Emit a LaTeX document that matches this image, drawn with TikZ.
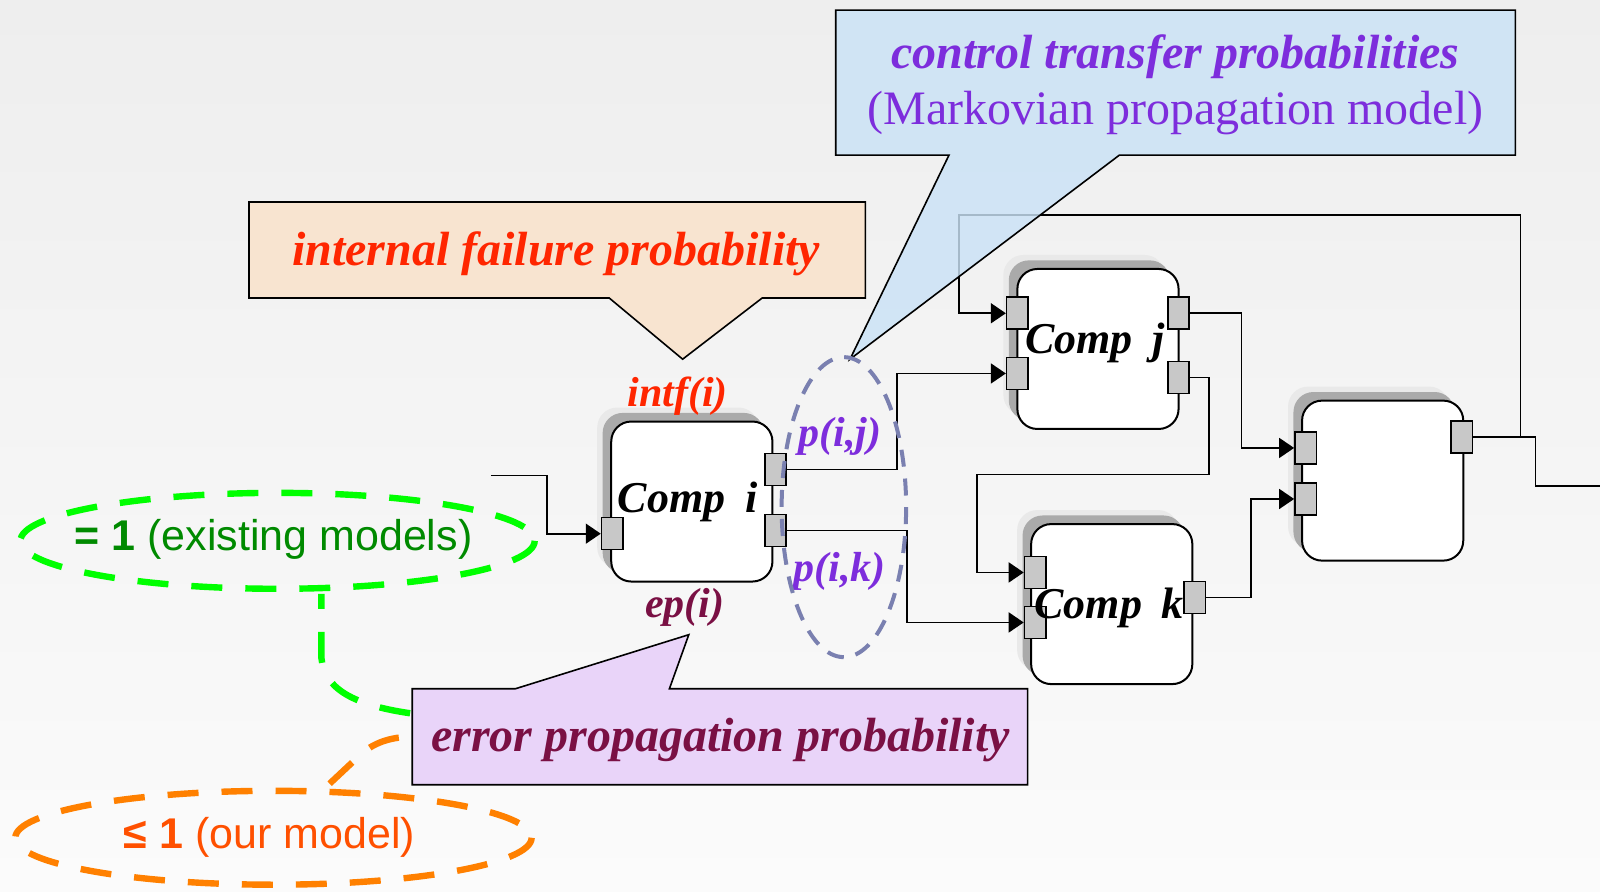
\documentclass[tikz,border=0pt]{standalone}
\usepackage{fontspec}
\setmainfont{Liberation Serif}
\newfontfamily\arialfont{Liberation Sans}
\usetikzlibrary{arrows.meta,shadows}

\definecolor{bgtop}{RGB}{238,238,238}
\definecolor{bgbot}{RGB}{251,251,251}
\definecolor{peach}{RGB}{248,228,208}
\definecolor{skyfill}{RGB}{202,226,246}
\definecolor{lilac}{RGB}{233,212,249}
\definecolor{failred}{RGB}{255,38,0}
\definecolor{ctpurple}{RGB}{125,45,220}
\definecolor{epmaroon}{RGB}{122,16,68}
\definecolor{portgray}{RGB}{200,200,200}
\definecolor{shadowgray}{RGB}{170,170,170}
\definecolor{halogray}{RGB}{233,233,233}
\definecolor{slateblue}{RGB}{122,128,176}
\definecolor{limegreen}{RGB}{0,255,0}
\definecolor{darkgreen}{RGB}{0,138,0}
\definecolor{brightorange}{RGB}{255,128,0}
\definecolor{orangetext}{RGB}{255,80,0}

\tikzset{
  compbox/.style={draw, fill=white, line width=1pt, rounded corners=10pt,
    minimum width=80.6pt, minimum height=80pt, inner sep=0pt,
    general shadow={fill=halogray, shadow xshift=-7pt, shadow yshift=7pt},
    general shadow={fill=shadowgray, shadow xshift=-4.3pt, shadow yshift=4.3pt}},
  port/.style={draw, fill=portgray, line width=0.8pt,
    minimum width=10.7pt, minimum height=16pt, inner sep=0pt},
  wire/.style={line width=0.85pt},
  arrowwire/.style={wire, -{Triangle[length=7.5pt,width=10pt]}},
  comptext/.style={font=\fontsize{22}{26}\selectfont\bfseries\itshape, inner sep=0pt},
  problabel/.style={font=\fontsize{21}{25}\selectfont\bfseries\itshape, inner sep=0pt},
  callouttext/.style={font=\fontsize{24}{28}\selectfont, inner sep=0pt},
  calloutshape/.style={draw, line width=0.8pt},
  greendash/.style={draw=limegreen, line width=3.2pt, dash pattern=on 15.5pt off 11.5pt},
  orangedash/.style={draw=brightorange, line width=3.2pt, dash pattern=on 15.5pt off 11.5pt},
  modeltext/.style={font=\fontsize{21.5}{25}\selectfont\arialfont, inner sep=0pt},
}

\begin{document}
\begin{tikzpicture}[x=0.5102pt, y=-0.5102pt]
  % background
  \shade[top color=bgtop, bottom color=bgbot] (0,0) rectangle (1568,874);
  \useasboundingbox (0,0) rectangle (1568,874);

  % "= 1" and "<= 1" annotations with their dashed tails
  \draw[greendash] (272,530) ellipse [x radius=252, y radius=47];
  \draw[greendash, dash phase=8pt] (315,582) -- (315,645) .. controls (318,672) and (340,690) .. (402,699);
  \draw[orangedash] (268,821) ellipse [x radius=253, y radius=46];
  \draw[orangedash] (323,768) -- (355,738) .. controls (368,727) and (385,722) .. (404,722);
  \node[modeltext, text=darkgreen] (eqone) at (268,529) {\textbf{= 1} (existing models)};
  \node[modeltext, text=orangetext] (leone) at (264,821) {\textbf{≤ 1} (our model)};

  % components
  \node[compbox] (ci) at (678,491.5) {};
  \node[compbox] (cj) at (1076,342) {};
  \node[compbox] (ck) at (1089.5,592) {};
  \node[compbox] (cm) at (1355,471) {};

  % ports
  \node[port] (ci-in) at (600,523) {};
  \node[port] (ci-o1) at (760,460) {};
  \node[port] (ci-o2) at (760,520) {};
  \node[port] (cj-i1) at (997,307) {};
  \node[port] (cj-i2) at (997,366) {};
  \node[port] (cj-o1) at (1155,307) {};
  \node[port] (cj-o2) at (1155,370) {};
  \node[port] (ck-i1) at (1014.5,561) {};
  \node[port] (ck-i2) at (1014.5,610) {};
  \node[port] (ck-o) at (1171,585.5) {};
  \node[port] (cm-i1) at (1279.5,439) {};
  \node[port] (cm-i2) at (1279.5,489) {};
  \node[port] (cm-o) at (1432.5,428.5) {};

  % component names
  \node[comptext] (ci-t) at (674,492) {Comp\hspace{0.45em}i};
  \node[comptext] (cj-t) at (1073,336) {Comp\hspace{0.45em}j};
  \node[comptext] (ck-t) at (1087,596) {Comp\hspace{0.45em}k};

  % connectors
  \coordinate (inL) at (481,466);
  \coordinate (outR) at (1568,476);
  \coordinate (fbj) at (1490,428.5);
  \draw[arrowwire] (inL) -- ++(55,0) |- (ci-in.west);
  \draw[arrowwire] (ci-o1.east) -- ++(107.5,0) |- (cj-i2.west);
  \draw[arrowwire] (ci-o2.east) -- ++(117.5,0) |- (ck-i2.west);
  \draw[arrowwire] (cj-o1.east) -- ++(50.5,0) |- (cm-i1.west);
  \draw[arrowwire] (cj-o2.east) -- ++(18.5,0) |- ++(-227,95) |- (ck-i1.west);
  \draw[arrowwire] (ck-o.east) -- ++(43.5,0) |- (cm-i2.west);
  \draw[wire] (cm-o.east) -- ++(61,0) |- (outR);
  \draw[arrowwire] (fbj) -- ++(0,-217.5) -- ++(-550,0) |- (cj-i1.west);

  % labels around component i
  \node[problabel, text=failred] (intf) at (664,388) {intf(i)};
  \node[problabel, text=epmaroon] (ep) at (671,595) {ep(i)};
  \node[problabel, text=ctpurple] (pij) at (823,428) {p(i,j)};
  \node[problabel, text=ctpurple] (pik) at (823,560) {p(i,k)};

  % callouts
  \draw[calloutshape, fill=peach] (244,198) -- (848,198) -- (848,292) -- (747,292)
    -- (669,352) -- (597,292) -- (244,292) -- cycle;
  \node[callouttext, text=failred, font=\fontsize{24}{28}\selectfont\bfseries\itshape]
    (intf-c) at (545,249) {internal failure probability};

  \draw[calloutshape, fill=lilac] (404,675) -- (505,675) -- (675,622) -- (656,675)
    -- (1007,675) -- (1007,769) -- (404,769) -- cycle;
  \node[callouttext, text=epmaroon, font=\fontsize{24}{28}\selectfont\bfseries\itshape]
    (ep-c) at (706,725) {error propagation probability};

  \draw[calloutshape, fill=skyfill, fill opacity=0.82] (819,10) -- (1485,10) -- (1485,152)
    -- (1097,152) -- (833,352) -- (930,152) -- (819,152) -- cycle;
  \node[callouttext, text=ctpurple, font=\fontsize{24}{28}\selectfont\bfseries\itshape]
    (ct-c1) at (1152,56) {control transfer probabilities};
  \node[callouttext, text=ctpurple] (ct-c2) at (1152,111) {(Markovian propagation model)};

  % group of transfer probabilities
  \draw[slateblue, line width=2pt, dash pattern=on 8.5pt off 6pt]
    (827,497) ellipse [x radius=61, y radius=147];
\end{tikzpicture}
\end{document}
